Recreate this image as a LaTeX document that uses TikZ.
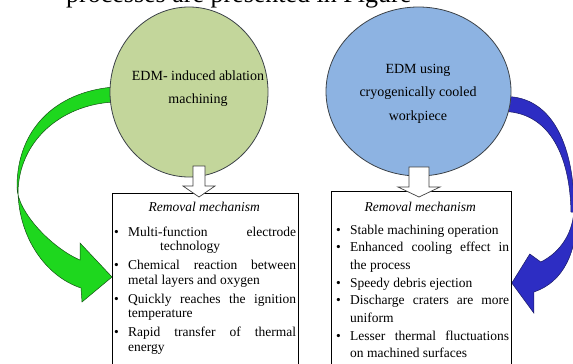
\documentclass[tikz,border=0pt]{standalone}
\usepackage{fontspec}
\setmainfont{Liberation Serif}
\usetikzlibrary{calc,shapes.geometric,backgrounds}

\definecolor{circgreen}{RGB}{195,214,155}
\definecolor{circblue}{RGB}{141,179,226}
\definecolor{circline}{RGB}{60,66,72}
\definecolor{arrgreen}{RGB}{30,215,30}
\definecolor{arrgreenline}{RGB}{20,80,20}
\definecolor{arrblue}{RGB}{45,45,195}
\definecolor{arrblueline}{RGB}{25,25,100}

\newlength{\bulind}
\newlength{\bulgap}
\newlength{\itemgap}
\newcommand{\mechitem}[1]{\par\vspace{\itemgap}\hangindent=\bulind\hangafter=1%
  \noindent\makebox[\bulind][l]{\hspace{\bulgap}\textbullet}#1}

\begin{document}
\begin{tikzpicture}[x=1pt, y=-1pt,
  topic/.style={ellipse, draw=circline, line width=0.8pt, inner sep=0pt},
  topictext/.style={align=center, font=\fontsize{14}{23}\selectfont},
  mechbox/.style={rectangle, draw=black, line width=0.8pt, fill=white,
    anchor=north west, inner sep=0pt},
  mechlist/.style={anchor=base west, inner sep=0pt},
  openarrow/.style={draw=black!75, line width=0.7pt, fill=white},
  greenarr/.style={fill=arrgreen, draw=arrgreenline, line width=0.5pt},
  bluearr/.style={fill=arrblue, draw=arrblueline, line width=0.5pt}]
  \useasboundingbox (0,0) rectangle (573,364);
  \clip (0,0) rectangle (573,364);

  % the two processes
  \node (circA) [topic, fill=circgreen, minimum width=158pt, minimum height=170pt]
    at (189,92) {};
  \node (circB) [topic, fill=circblue, minimum width=185pt, minimum height=169pt]
    at (418.5,91.5) {};
  \node (labA) [topictext] at (198,88.5) {EDM- induced ablation\\machining};
  \node (labB) [topictext, font=\fontsize{14}{23.5}\selectfont] at (418,93.5)
    {EDM using\\cryogenically cooled\\workpiece};

  % cut line of the page above the figure
  \node (pagetext) [anchor=base west, inner sep=0pt,
    font=\fontsize{26}{30}\selectfont] at (66,2.5) {processes are presented in Figure};

  % removal mechanisms
  \node (boxA) [mechbox, minimum width=186pt, minimum height=200pt] at (112,193) {};
  \node (boxB) [mechbox, minimum width=180pt, minimum height=200pt] at (331,191) {};

  \node (listA) [mechlist] at (112,211) {%
    \setlength{\bulind}{16pt}\setlength{\bulgap}{2pt}\setlength{\itemgap}{4.5pt}%
    \begin{minipage}[t]{184pt}
      \fontsize{13.5}{14.5}\selectfont
      \centerline{\itshape Removal mechanism}
      \vspace{6pt}
      \mechitem{Multi-function\hfill electrode\linebreak\hspace*{32pt}technology}
      \mechitem{Chemical reaction between\linebreak metal layers and oxygen}
      \mechitem{Quickly reaches the ignition\linebreak temperature}
      \mechitem{Rapid transfer of thermal\linebreak energy}
    \end{minipage}};

  \node (listB) [mechlist] at (331,211) {%
    \setlength{\bulind}{19pt}\setlength{\bulgap}{5pt}\setlength{\itemgap}{0pt}%
    \begin{minipage}[t]{178pt}
      \fontsize{13.5}{17.7}\selectfont
      \centerline{\itshape Removal mechanism}
      \vspace{5.3pt}
      \mechitem{Stable machining operation}
      \mechitem{Enhanced cooling effect in\linebreak the process}
      \mechitem{Speedy debris ejection}
      \mechitem{Discharge craters are more\linebreak uniform}
      \mechitem{Lesser thermal fluctuations\linebreak on machined surfaces}
    \end{minipage}};

  % curved arrows, behind the circles
  \coordinate (tipA) at ([yshift=-84pt]boxA.north west);
  \coordinate (tipB) at ([yshift=-92pt]boxB.north east);
  \begin{scope}[on background layer]
    \fill[white] (0,0) rectangle (573,364);
    \filldraw[greenarr] ([xshift=4pt,yshift=5pt]circA.west)
      .. controls +(-59,5) and +(0,-57) .. (17,187)
      .. controls +(0,25) and +(-28,-12) .. ($(tipA)+(-32,-17)$)
      -- ($(tipA)+(-32,-34)$) -- (tipA) -- ($(tipA)+(-30,25)$) -- ($(tipA)+(-31,11)$)
      .. controls +(-36,-12) and +(1,45) .. (18,192)
      .. controls +(1,-50) and +(-54,3) .. ([xshift=4pt,yshift=-10pt]circA.west)
      -- cycle;
    \filldraw[bluearr] ([xshift=-6pt,yshift=-5pt]circB.east)
      .. controls +(50,0) and +(0,-55) .. (574,207)
      .. controls +(0,25) and +(20,-10) .. ($(tipB)+(29,-21)$)
      -- ($(tipB)+(18,-29)$) -- (tipB) -- ($(tipB)+(22,30)$) -- ($(tipB)+(22,9)$)
      .. controls +(30,-10) and +(0,40) .. (577,212)
      -- (571,212)
      .. controls +(-1,-55) and +(45,2) .. ([xshift=-6pt,yshift=-20pt]circB.east)
      -- cycle;
  \end{scope}

  % open block arrows from the circles down to the boxes
  \coordinate (dropA) at (199,166);
  \coordinate (dropB) at (419,167);
  \draw[openarrow] ($(dropA)+(-6,0)$) -- ++(0,20) -- ++(-10,0) -- ($(dropA)+(0,31)$)
    -- ($(dropA)+(16,20)$) -- ++(-10,0) -- ($(dropA)+(6,0)$) -- cycle;
  \draw[openarrow] ($(dropB)+(-10,0)$) -- ++(0,20) -- ++(-11,0) -- ($(dropB)+(0,30)$)
    -- ($(dropB)+(21,20)$) -- ++(-11,0) -- ($(dropB)+(10,0)$) -- cycle;
\end{tikzpicture}
\end{document}
